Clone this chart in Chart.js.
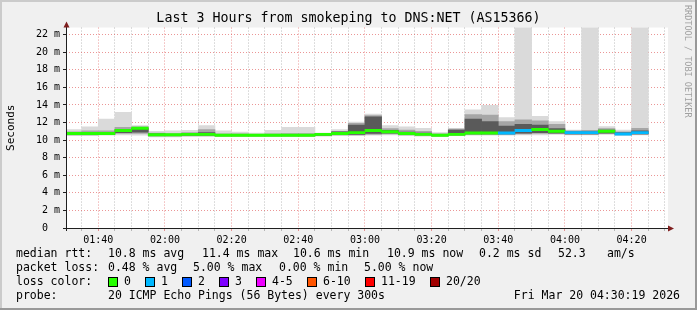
<!DOCTYPE html>
<html>
<head>
<meta charset="utf-8">
<title>smokeping DNS:NET</title>
<script src="https://cdn.jsdelivr.net/npm/chart.js@4.4.1/dist/chart.umd.min.js"></script>
<style>
  html, body { margin: 0; padding: 0; background: #f0f0f0; }
  canvas { display: block; }
</style>
</head>
<body>
<canvas id="smokeChart" width="697" height="310"></canvas>
<script>
// 5 minute slots (start time of each), last 3 hours
const slotLabels = ['01:30','01:35','01:40','01:45','01:50','01:55','02:00','02:05','02:10','02:15',
                    '02:20','02:25','02:30','02:35','02:40','02:45','02:50','02:55','03:00','03:05',
                    '03:10','03:15','03:20','03:25','03:30','03:35','03:40','03:45','03:50','03:55',
                    '04:00','04:05','04:10','04:15','04:20'];

// median rtt in ms
const medianRtt = [10.75,10.75,10.75,11.10,11.35,10.60,10.60,10.65,10.65,10.55,
                   10.55,10.55,10.55,10.55,10.55,10.65,10.75,10.85,11.10,10.95,
                   10.75,10.65,10.55,10.65,10.80,10.80,10.80,11.10,11.20,11.00,
                   10.85,10.85,11.00,10.70,10.85];
// lost pings out of 20
const lostPings = [0,0,0,0,0,0,0,0,0,0, 0,0,0,0,0,0,0,0,0,0, 0,0,0,0,0,0,1,1,0,0, 1,1,0,1,1];

// smoke: full ping range, middle band, core band (ms)
const pingMin = [10.50,10.50,10.55,10.60,10.55,10.35,10.35,10.40,10.40,10.40,
                 10.40,10.40,10.40,10.40,10.40,10.45,10.50,10.50,10.55,10.60,
                 10.50,10.45,10.40,10.50,10.55,10.55,10.55,10.60,10.60,10.65,
                 10.60,10.60,10.65,10.55,10.60];
const pingMax = [11.20,11.50,12.40,13.15,11.65,11.00,11.05,11.10,11.65,11.05,
                 10.90,10.80,11.10,11.45,11.45,10.80,11.20,12.05,12.95,11.65,
                 11.50,11.35,10.85,11.35,13.45,13.95,12.55,23.00,12.70,12.10,
                 11.15,23.00,11.55,11.15,23.00];
const smokeLo = [10.60,10.60,10.65,10.75,10.75,10.45,10.45,10.50,10.50,10.45,
                 10.45,10.45,10.45,10.45,10.45,10.50,10.60,10.60,10.65,10.70,
                 10.60,10.55,10.45,10.55,10.65,10.65,10.65,10.70,10.75,10.75,
                 10.65,10.65,10.75,10.60,10.65];
const smokeHi = [10.95,11.05,11.05,11.45,11.50,10.80,10.75,10.85,11.20,10.70,
                 10.70,10.65,10.70,10.75,10.75,10.75,11.00,11.90,12.80,11.30,
                 11.15,11.00,10.70,11.25,12.90,12.85,12.10,12.30,12.20,11.80,
                 11.05,11.10,11.30,10.95,11.35];
const coreLo = [10.65,10.65,10.70,10.85,10.90,10.50,10.50,10.55,10.55,10.50,
                10.50,10.50,10.50,10.50,10.50,10.55,10.65,10.65,10.75,10.80,
                10.65,10.60,10.50,10.60,10.70,10.70,10.70,10.80,10.85,10.80,
                10.70,10.70,10.80,10.65,10.70];
const coreHi = [10.85,10.85,10.85,11.20,11.35,10.70,10.65,10.75,10.85,10.60,
                10.60,10.60,10.60,10.65,10.65,10.70,10.95,11.70,12.65,11.10,
                10.90,10.80,10.60,11.15,12.40,12.10,11.60,11.80,11.70,11.30,
                10.95,10.95,11.15,10.85,11.05];

// time axis
const windowStart = '01:30:19';
const windowEnd = '04:30:19';
const timeTicks = ['01:40','02:00','02:20','02:40','03:00','03:20','03:40','04:00','04:20'];

// loss colour legend
const lossLabels = ['0','1','2','3','4-5','6-10','11-19','20/20'];
const lossColors = ['#26ff00','#00b8ff','#0059ff','#7e00ff','#ee00ff','#ff5500','#ff0000','#a10000'];
const lossUpper  = [0, 1, 2, 3, 5, 10, 19, 20];

const toMin = s => {
    const p = s.split(':').map(Number);
    return p[0] * 60 + p[1] + (p[2] || 0) / 60 - 90;
};
const slotX = slotLabels.map(s => toMin(s) + 2.5);
const lossColor = n => lossColors[lossUpper.findIndex(u => n <= u)];
const MONO = '"DejaVu Sans Mono", monospace';

const band = (lo, hi) => slotX.map((x, i) => ({ x: x, y: [lo[i], hi[i]] }));
// median drawn as a thin band (~3px line)
const medianBand = slotX.map((x, i) => ({ x: x, y: [medianRtt[i] - 0.13, medianRtt[i] + 0.13] }));

const barDefaults = { grouped: false, barPercentage: 1, categoryPercentage: 1, borderWidth: 0, clip: 0 };

// rrdtool-ish frame, axes, legend
const rrdFrame = {
    id: 'rrdFrame',
    beforeDraw(chart) {
        const { ctx, chartArea: a, width, height } = chart;
        ctx.save();
        ctx.fillStyle = '#f0f0f0';
        ctx.fillRect(0, 0, width, height);
        ctx.fillStyle = '#cbcbcb';
        ctx.fillRect(0, 0, width, 2);
        ctx.fillRect(0, 0, 2, height);
        ctx.fillStyle = '#999999';
        ctx.fillRect(0, height - 2, width, 2);
        ctx.fillRect(width - 2, 0, 2, height);
        ctx.fillStyle = '#ffffff';
        ctx.fillRect(a.left, a.top, a.right - a.left + 2, a.bottom - a.top);
        ctx.restore();
    },
    afterDraw(chart) {
        const { ctx, chartArea: a } = chart;
        const left = Math.round(a.left), bottom = Math.round(a.bottom);
        ctx.save();
        // axes
        ctx.fillStyle = '#1f1f1f';
        ctx.fillRect(left, a.top - 2, 1, bottom - a.top + 5);
        ctx.fillRect(left - 3, bottom, a.right - left + 6, 1);
        // arrows
        ctx.fillStyle = '#7f1f1f';
        ctx.beginPath();
        ctx.moveTo(left - 2.5, a.top);
        ctx.lineTo(left + 3.5, a.top);
        ctx.lineTo(left + 0.5, a.top - 6);
        ctx.closePath();
        ctx.fill();
        ctx.beginPath();
        ctx.moveTo(a.right + 2, bottom - 2.5);
        ctx.lineTo(a.right + 2, bottom + 3.5);
        ctx.lineTo(a.right + 8, bottom + 0.5);
        ctx.closePath();
        ctx.fill();

        // unit label
        ctx.fillStyle = '#000';
        ctx.font = '11px ' + MONO;
        ctx.textAlign = 'center';
        ctx.textBaseline = 'middle';
        ctx.save();
        ctx.translate(11, (a.top + a.bottom) / 2);
        ctx.rotate(-Math.PI / 2);
        ctx.fillText('Seconds', 0, 0);
        ctx.restore();

        // watermark
        ctx.save();
        ctx.fillStyle = '#a0a0a0';
        ctx.font = '8.5px ' + MONO;
        ctx.textAlign = 'left';
        ctx.translate(687, 5);
        ctx.rotate(Math.PI / 2);
        ctx.fillText('RRDTOOL / TOBI OETIKER', 0, 0);
        ctx.restore();

        // legend rows
        ctx.font = '11.5px ' + MONO;
        ctx.textAlign = 'left';
        ctx.fillStyle = '#000';
        const rows = [
            [254, [[16, 'median rtt:'], [108, '10.8 ms avg'], [202, '11.4 ms max'], [293, '10.6 ms min'],
                   [387, '10.9 ms now'], [479, '0.2 ms sd'], [558, '52.3'], [607, 'am/s']]],
            [268, [[16, 'packet loss:'], [108, '0.48 % avg'], [193, '5.00 % max'], [279, '0.00 % min'],
                   [364, '5.00 % now']]],
            [282, [[16, 'loss color:']]],
            [296, [[16, 'probe:'], [108, '20 ICMP Echo Pings (56 Bytes) every 300s']]]
        ];
        rows.forEach(([y, items]) => items.forEach(([x, t]) => ctx.fillText(t, x, y)));
        ctx.textAlign = 'right';
        ctx.fillText('Fri Mar 20 04:30:19 2026', 680, 296);

        // loss colour swatches
        const boxX = [108, 145, 182, 219, 256, 307, 365, 430];
        ctx.textAlign = 'left';
        lossLabels.forEach((lab, i) => {
            ctx.fillStyle = lossColors[i];
            ctx.fillRect(boxX[i], 277, 10, 10);
            ctx.strokeStyle = '#000';
            ctx.lineWidth = 1;
            ctx.strokeRect(boxX[i] + 0.5, 277.5, 9, 9);
            ctx.fillStyle = '#000';
            ctx.fillText(lab, boxX[i] + 16, 282);
        });
        ctx.restore();
    }
};

const gridGray = 'rgba(143,143,143,0.6)';
const gridRed = 'rgba(222,80,80,0.6)';
const majorMinutes = timeTicks.map(toMin);
const tickVal = c => (c && c.tick ? c.tick.value : NaN);
const isMajorX = c => majorMinutes.some(m => Math.abs(m - tickVal(c)) < 1e-6);

const ctx = document.getElementById('smokeChart').getContext('2d');
const smokeChart = new Chart(ctx, {
    type: 'bar',
    data: {
        datasets: [
            { ...barDefaults, label: 'median', data: medianBand, backgroundColor: lostPings.map(lossColor) },
            { ...barDefaults, label: 'core', data: band(coreLo, coreHi), backgroundColor: '#5a5a5a' },
            { ...barDefaults, label: 'smoke', data: band(smokeLo, smokeHi), backgroundColor: '#a6a6a6' },
            { ...barDefaults, label: 'range', data: band(pingMin, pingMax), backgroundColor: '#dadada' }
        ]
    },
    options: {
        responsive: false,
        animation: false,
        devicePixelRatio: 1,
        layout: { padding: { left: 31, right: 31, top: 0, bottom: 0 } },
        plugins: {
            legend: { display: false },
            tooltip: { enabled: false },
            title: {
                display: true,
                text: 'Last 3 Hours from smokeping to DNS:NET (AS15366)',
                color: '#000',
                font: { family: MONO, size: 13.3, weight: 'normal', lineHeight: 1.2 },
                padding: { top: 11, bottom: 0.6 }
            }
        },
        scales: {
            x: {
                type: 'linear',
                offset: false,
                z: 1,
                min: toMin(windowStart),
                max: toMin(windowEnd),
                afterBuildTicks: scale => {
                    const t = [];
                    for (let m = 5; m <= 180; m += 5) t.push({ value: m });
                    scale.ticks = t;
                },
                afterFit: scale => { scale.height = 82; },
                border: { display: false, dash: [1, 2] },
                grid: {
                    offset: false,
                    color: c => isMajorX(c) ? gridRed : gridGray,
                    tickLength: 3,
                    tickBorderDash: [],
                    tickColor: c => isMajorX(c) ? gridRed : gridGray
                },
                ticks: {
                    autoSkip: false,
                    maxRotation: 0,
                    padding: 3,
                    color: '#000',
                    font: { family: MONO, size: 10 },
                    callback: v => {
                        const i = majorMinutes.findIndex(m => Math.abs(m - v) < 1e-6);
                        return i >= 0 ? timeTicks[i] : '';
                    }
                }
            },
            y: {
                min: 0,
                max: 22.8,
                z: 1,
                afterBuildTicks: scale => {
                    const t = [];
                    for (let v = 0; v <= 22; v++) t.push({ value: v });
                    scale.ticks = t;
                },
                afterFit: scale => { scale.width = 35; },
                border: { display: false, dash: [1, 2] },
                grid: {
                    color: c => tickVal(c) % 2 === 0 ? gridRed : gridGray,
                    tickLength: 3,
                    tickBorderDash: [],
                    tickColor: c => tickVal(c) % 2 === 0 ? '#1f1f1f' : 'rgba(0,0,0,0)'
                },
                ticks: {
                    padding: 3,
                    color: '#000',
                    font: { family: MONO, size: 10 },
                    callback: v => v % 2 !== 0 ? '' : (v === 0 ? '0  ' : v + ' m')
                }
            }
        }
    },
    plugins: [rrdFrame]
});
</script>
</body>
</html>
